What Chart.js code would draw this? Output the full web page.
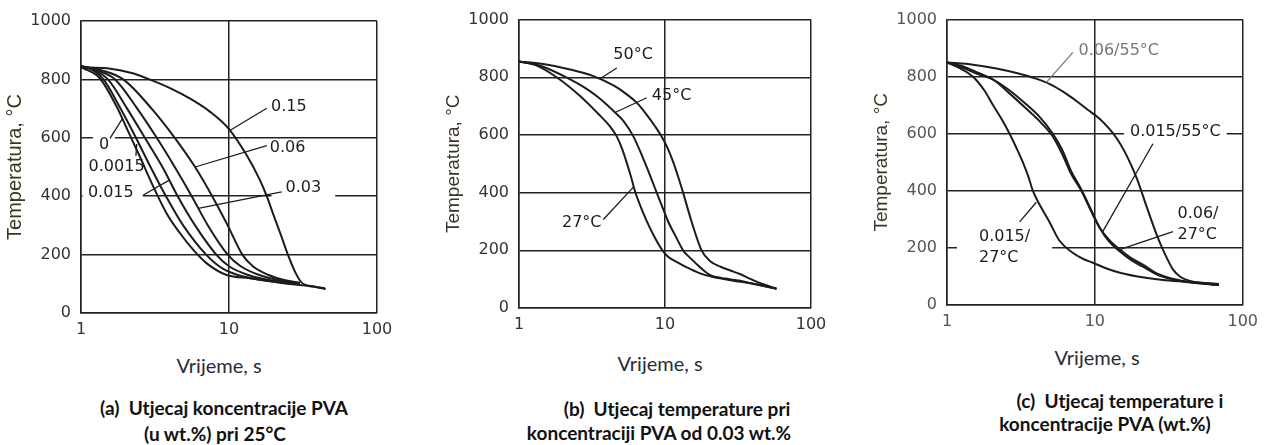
<!DOCTYPE html>
<html>
<head>
<meta charset="utf-8">
<title>Krivulje hlađenja - PVA</title>
<script src="https://cdn.jsdelivr.net/npm/chart.js@4.4.1/dist/chart.umd.min.js"></script>
<style>
  body { margin: 0; width: 1265px; height: 445px; background: #fff; position: relative; overflow: hidden; }
  canvas { position: absolute; top: 0; }
  .xt { position: absolute; font: 20px Lato, sans-serif; color: #2b2b35; transform: translate(-50%, -50%); white-space: nowrap; }
  .cap { position: absolute; font: bold 19px Lato, sans-serif; color: #111; transform: translate(-50%, -50%); white-space: pre; }
</style>
</head>
<body>
<canvas id="chartA" width="420" height="345" style="left:0px"></canvas>
<canvas id="chartB" width="420" height="345" style="left:439px"></canvas>
<canvas id="chartC" width="398" height="345" style="left:867px"></canvas>

<div class="xt" style="left:219px; top:365px">Vrijeme, s</div>
<div class="xt" style="left:660px; top:363px">Vrijeme, s</div>
<div class="xt" style="left:1097px; top:357px">Vrijeme, s</div>

<div class="cap" style="left:224px; top:407px">(a)  Utjecaj koncentracije PVA</div>
<div class="cap" style="left:215px; top:433px">(u wt.%) pri 25°C</div>
<div class="cap" style="left:677px; top:408px">(b)  Utjecaj temperature pri</div>
<div class="cap" style="left:659px; top:432px">koncentraciji PVA od 0.03 wt.%</div>
<div class="cap" style="left:1120px; top:400px">(c)  Utjecaj temperature i</div>
<div class="cap" style="left:1105px; top:423px">koncentracije PVA (wt.%)</div>

<script>
// osi
const xTicks = [1, 10, 100];
const yTicks = [0, 200, 400, 600, 800, 1000];

// (a) koncentracija PVA pri 25°C - vrijeme (s) / temperatura (°C)
const a0_t = [1, 1.04, 1.34, 1.74, 2.04, 2.5, 3.08, 3.79, 4.67, 5.74, 7.07, 9.65, 13.9, 23.3, 30.2, 44.5];
const a0_T = [842, 838, 804, 707, 632, 535, 433, 341, 273, 216, 170, 130, 119, 102, 96, 85];
const a0015_t = [1, 1.2, 1.42, 1.85, 2.35, 2.95, 3.75, 4.9, 7.0, 9.2, 12.5, 18, 30];
const a0015_T = [845, 832, 800, 700, 600, 500, 400, 300, 200, 150, 125, 110, 100];
const a015_t = [1, 1.22, 1.52, 2.05, 2.7, 3.55, 4.5, 5.9, 8.2, 10, 13.5, 19, 30];
const a015_T = [845, 832, 800, 700, 600, 500, 400, 300, 200, 160, 130, 112, 102];
const a03_t = [1, 1.3, 1.7, 2.4, 3.25, 4.3, 5.6, 7.2, 9.8, 12, 16, 22, 30];
const a03_T = [845, 830, 800, 700, 600, 500, 400, 300, 200, 160, 130, 112, 103];
const a06_t = [1, 1.4, 1.93, 3.0, 4.3, 5.9, 7.7, 9.8, 12.3, 14.5, 18.5, 24, 30];
const a06_T = [845, 830, 800, 700, 600, 500, 400, 300, 200, 160, 130, 112, 104];
const a15_t = [1, 1.5, 2.2, 2.9, 4, 5.5, 7.5, 10, 13, 16, 18, 20, 22.5, 25, 28, 31, 38, 45];
const a15_T = [842, 838, 822, 800, 770, 733, 688, 630, 545, 460, 400, 335, 265, 200, 140, 104, 90, 82];

// (b) temperatura kupke, 0.03 wt.% PVA
const b27_t = [1, 1.3, 1.81, 2.62, 3.59, 4.2, 4.67, 5.1, 5.46, 5.85, 6.23, 7.5, 8.6, 9.6, 10.5, 12, 14.1, 17, 21.4, 30, 40.3, 58];
const b27_T = [855, 842, 800, 735, 667, 630, 595, 550, 505, 455, 405, 301, 240, 200, 178, 160, 141, 122, 107, 94, 84, 67];
const b45_t = [1, 1.4, 2.01, 2.8, 3.4, 4.0, 4.55, 5.2, 6.07, 7.0, 7.9, 8.77, 9.6, 10.5, 11.8, 13.3, 15, 17.5, 20.3, 26, 32, 40, 58];
const b45_T = [855, 840, 805, 765, 735, 705, 678, 648, 595, 525, 460, 400, 350, 300, 250, 200, 172, 140, 115, 102, 95, 84, 67];
const b50_t = [1, 1.5, 2.2, 3.2, 4.5, 5.5, 6.4, 7.5, 8.5, 9.4, 10.4, 11.4, 12.4, 13.3, 15.2, 17.8, 20.4, 24, 28, 32.6, 38, 45, 58];
const b50_T = [855, 845, 828, 805, 770, 740, 712, 670, 632, 598, 555, 505, 450, 400, 300, 200, 162, 143, 130, 118, 102, 86, 67];

// (c) temperatura i koncentracija PVA
const c015_27_t = [1, 1.2, 1.5, 1.8, 2.05, 2.35, 2.65, 2.95, 3.26, 3.55, 3.81, 4.3, 4.94, 5.77, 7.0, 8.3, 9.7, 12, 15, 21, 30, 46, 69];
const c015_27_T = [850, 832, 800, 750, 700, 650, 600, 550, 500, 450, 400, 345, 290, 225, 185, 162, 148, 128, 112, 97, 87, 80, 74];
const c06_27_t = [1, 1.3, 1.6, 2.05, 2.6, 3.4, 4.3, 5.2, 6.0, 6.9, 8.1, 9.4, 10.8, 12.5, 14.7, 17.5, 21, 27, 37, 50, 69];
const c06_27_T = [850, 835, 815, 790, 745, 690, 640, 590, 530, 460, 400, 330, 270, 228, 195, 165, 142, 108, 87, 77, 70];
const c015_55_t = [1, 1.3, 1.6, 2.05, 2.6, 3.4, 4.3, 5.2, 6.0, 6.9, 8.1, 9.4, 10.8, 12.5, 14.7, 17.5, 21, 27, 37, 50, 69];
const c015_55_T = [850, 830, 810, 790, 755, 705, 655, 600, 545, 470, 405, 335, 270, 222, 188, 158, 135, 104, 85, 76, 70];
const c06_55_t = [1, 1.5, 2.2, 3.0, 4.0, 5.0, 6.2, 7.5, 9.0, 10.8, 12.5, 14, 15.8, 17.6, 19.1, 20.6, 22.2, 24, 26, 28.5, 31, 34, 38, 44, 55, 69];
const c06_55_T = [850, 842, 828, 812, 793, 773, 745, 715, 683, 652, 618, 585, 540, 490, 447, 400, 350, 300, 250, 200, 160, 122, 98, 84, 76, 70];

// oznake krivulja (vrijeme, temperatura) + linije do krivulja
const aNotes = [
  { text: ['0.15'], at: [25.4, 705], lead: [[18, 701], [10.2, 626]] },
  { text: ['0.06'], at: [24.9, 564], lead: [[18, 573], [5.9, 500]] },
  { text: ['0.03'], at: [31.8, 427], lead: [[22.7, 415], [6.2, 358]], box: [14, 3] },
  { text: ['0'], at: [1.43, 575], lead: [[1.57, 598], [1.9, 665]], box: [6, 3] },
  { text: ['0.0015'], at: [1.74, 501], lead: [[2.35, 538], [2.38, 579]] },
  { text: ['0.015'], at: [1.59, 410], lead: [[2.64, 404], [3.95, 455]], box: [9, 3] }
];
const bNotes = [
  { text: ['50°C'], at: [6.04, 877], lead: [[4.67, 832], [3.59, 795]] },
  { text: ['45°C'], at: [11.1, 735], lead: [[7.5, 729], [4.55, 678]] },
  { text: ['27°C'], at: [2.69, 296], lead: [[3.78, 307], [6.1, 420]] }
];
const cNotes = [
  { text: ['0.06/55°C'], at: [14.5, 890], lead: [[7.1, 885], [4.7, 780]], color: '#777' },
  { text: ['0.015/55°C'], at: [35, 605], lead: [[24.7, 565], [11.3, 257]], box: [6, 2] },
  { text: ['0.06/', '27°C'], at: [49.8, 283], lead: [[33.7, 257], [14.7, 194]] },
  { text: ['0.015/', '27°C'], at: [2.45, 201], lead: [[3.1, 291], [4.02, 360]], box: [22, 1] }
];

const NOTE_FONT = '16px "DejaVu Sans"';
const NOTE_LH = 21;
const INK = '#1c1c1c';

function pts(t, T) {
  return t.map((v, i) => ({ x: v, y: T[i] }));
}

function curve(t, T) {
  return {
    data: pts(t, T),
    borderColor: INK,
    borderWidth: 2,
    pointRadius: 0,
    fill: false,
    cubicInterpolationMode: 'monotone'
  };
}

function notesPlugin(notes) {
  function place(chart, n) {
    const { ctx, scales: { x, y } } = chart;
    const w = Math.max(...n.text.map(s => ctx.measureText(s).width));
    const h = n.text.length * NOTE_LH;
    const cx = x.getPixelForValue(n.at[0]);
    const cy = y.getPixelForValue(n.at[1]);
    return { w, h, cx, cy };
  }
  return {
    id: 'notes',
    beforeDatasetsDraw(chart) {
      const { ctx, chartArea: ca } = chart;
      ctx.save();
      ctx.beginPath();
      ctx.rect(ca.left + 1.5, ca.top + 1.5, ca.width - 3, ca.height - 3);
      ctx.clip();
      ctx.font = NOTE_FONT;
      ctx.fillStyle = '#fff';
      notes.forEach(n => {
        if (!n.box) return;
        const p = place(chart, n);
        ctx.fillRect(p.cx - p.w / 2 - n.box[0], p.cy - p.h / 2 - n.box[1], p.w + 2 * n.box[0], p.h + 2 * n.box[1]);
      });
      ctx.restore();
    },
    afterDatasetsDraw(chart) {
      const { ctx, scales: { x, y } } = chart;
      ctx.save();
      ctx.font = NOTE_FONT;
      ctx.textAlign = 'left';
      ctx.textBaseline = 'middle';
      notes.forEach(n => {
        const col = n.color || INK;
        ctx.strokeStyle = col;
        ctx.lineWidth = 1.3;
        ctx.beginPath();
        n.lead.forEach((q, i) => {
          const px = x.getPixelForValue(q[0]), py = y.getPixelForValue(q[1]);
          if (i === 0) ctx.moveTo(px, py); else ctx.lineTo(px, py);
        });
        ctx.stroke();
        const p = place(chart, n);
        ctx.fillStyle = col;
        n.text.forEach((s, i) => {
          ctx.fillText(s, p.cx - p.w / 2, p.cy - p.h / 2 + NOTE_LH * (i + 0.5));
        });
      });
      ctx.restore();
    }
  };
}

function makePanel(id, datasets, notes, lay) {
  const gridCol = '#222';
  return new Chart(document.getElementById(id), {
    type: 'line',
    data: { datasets: datasets },
    options: {
      responsive: false,
      animation: false,
      layout: { padding: { top: lay.top, right: lay.right, bottom: 0, left: 0 } },
      plugins: { legend: { display: false }, tooltip: { enabled: false } },
      scales: {
        x: {
          type: 'logarithmic',
          min: 1,
          max: 100,
          afterBuildTicks: s => { s.ticks = xTicks.map(v => ({ value: v })); },
          afterFit: s => { s.height = lay.xH; },
          grid: { color: gridCol, lineWidth: 1.5, drawTicks: false },
          border: { color: gridCol, width: 1.5 },
          ticks: {
            padding: 7,
            color: lay.tickCol,
            font: { family: 'DejaVu Sans', size: 16 },
            maxRotation: 0,
            callback: v => String(v)
          }
        },
        y: {
          min: 0,
          max: 1000,
          afterBuildTicks: s => { s.ticks = yTicks.map(v => ({ value: v })); },
          afterFit: s => { s.width = lay.yW; },
          grid: { color: gridCol, lineWidth: 1.5, drawTicks: false },
          border: { color: gridCol, width: 1.5 },
          ticks: {
            padding: 10,
            color: lay.tickCol,
            font: { family: 'DejaVu Sans', size: 16 },
            callback: v => String(v)
          },
          title: {
            display: true,
            text: 'Temperatura, °C',
            color: '#3b3520',
            font: { family: 'Liberation Sans', size: lay.yTitleSize },
            padding: { top: 3, bottom: 0 }
          }
        }
      }
    },
    plugins: [notesPlugin(notes)]
  });
}

makePanel('chartA', [
  curve(a0_t, a0_T),
  curve(a0015_t, a0015_T),
  curve(a015_t, a015_T),
  curve(a03_t, a03_T),
  curve(a06_t, a06_T),
  curve(a15_t, a15_T)
], aNotes, { top: 21, right: 43, xH: 32, yW: 81, tickCol: '#333', yTitleSize: 20 });

makePanel('chartB', [
  curve(b27_t, b27_T),
  curve(b45_t, b45_T),
  curve(b50_t, b50_T)
], bNotes, { top: 16, right: 48, xH: 37, yW: 80, tickCol: '#333', yTitleSize: 19 });

makePanel('chartC', [
  curve(c015_27_t, c015_27_T),
  curve(c06_27_t, c06_27_T),
  curve(c015_55_t, c015_55_T),
  curve(c06_55_t, c06_55_T)
], cNotes, { top: 13, right: 17, xH: 40, yW: 80, tickCol: '#555', yTitleSize: 19 });
</script>
</body>
</html>
